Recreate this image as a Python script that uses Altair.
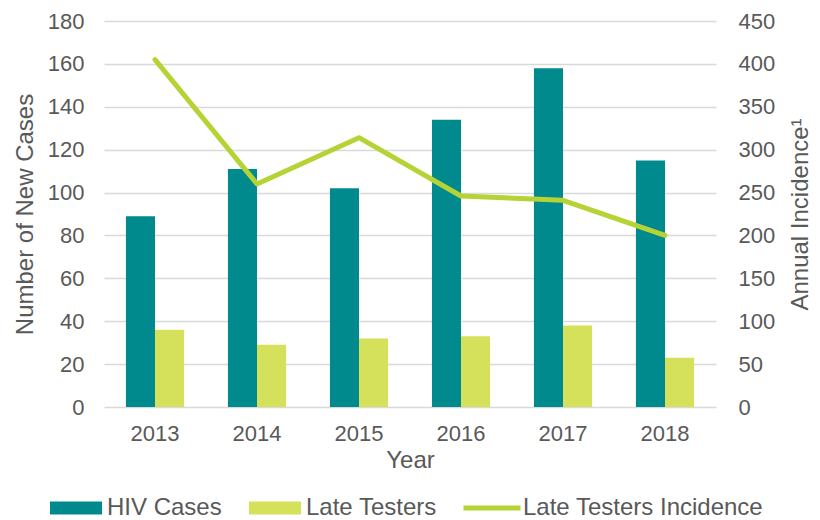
import altair as alt
import pandas as pd

years = ["2013", "2014", "2015", "2016", "2017", "2018"]
hiv_cases = [89, 111, 102, 134, 158, 115]
late_testers = [36, 29, 32, 33, 38, 23]
late_incidence = [405, 260, 314, 246, 241, 200]

bar_series = ["HIV Cases", "Late Testers"]
line_series = "Late Testers Incidence"

bars_df = pd.DataFrame({
    "Year": years * 2,
    "Series": [bar_series[0]] * len(years) + [bar_series[1]] * len(years),
    "Value": hiv_cases + late_testers,
})
line_df = pd.DataFrame({
    "Year": years,
    "Series": [line_series] * len(years),
    "Incidence": late_incidence,
})

TXT = "#595959"
FONT = "Liberation Sans"
TEAL = "#008A8E"
YEL = "#D5E05B"
LINE = "#B5D334"

x_enc = alt.X("Year:N", title="Year",
              scale=alt.Scale(paddingInner=0.43, paddingOuter=0.215),
              axis=alt.Axis(labelAngle=0, labelPadding=16, titlePadding=4,
                            labelFontSize=22, titleFontSize=24, grid=False,
                            domain=False, ticks=False))

bars = alt.Chart(bars_df).mark_bar().encode(
    x=x_enc,
    xOffset=alt.XOffset("Series:N", sort=bar_series,
                        scale=alt.Scale(paddingInner=0, paddingOuter=0)),
    y=alt.Y("Value:Q", title="Number of New Cases",
            scale=alt.Scale(domain=[0, 180], nice=False),
            axis=alt.Axis(values=list(range(0, 181, 20)), grid=True,
                          gridColor="#D9D9D9", gridWidth=1.5,
                          labelPadding=20, titlePadding=10,
                          labelFontSize=22, titleFontSize=24,
                          domain=False, ticks=False)),
    color=alt.Color("Series:N", sort=bar_series,
                    scale=alt.Scale(domain=bar_series, range=[TEAL, YEL]),
                    legend=alt.Legend(title=None, orient="none", direction="horizontal",
                                      columns=2, legendX=-54, legendY=461,
                                      symbolType="M-1,-0.25H1V0.25H-1Z",
                                      symbolSize=2704, symbolStrokeWidth=0,
                                      symbolOpacity=1, labelLimit=0,
                                      labelFontSize=24, labelColor=TXT, labelFont=FONT,
                                      labelOffset=5, columnPadding=27, padding=0)),
)

line = alt.Chart(line_df).mark_line(strokeWidth=5, strokeCap="round", strokeJoin="round").encode(
    x=alt.X("Year:N"),
    y=alt.Y("Incidence:Q", title="Annual Incidence\u00b9",
            scale=alt.Scale(domain=[0, 450], nice=False),
            axis=alt.Axis(orient="right", values=list(range(0, 451, 50)), grid=False,
                          labelPadding=22, titlePadding=14, titleAngle=270,
                          titleBaseline="top",
                          labelFontSize=22, titleFontSize=24,
                          domain=False, ticks=False)),
    stroke=alt.Stroke("Series:N",
                      scale=alt.Scale(domain=[line_series], range=[LINE]),
                      legend=alt.Legend(title=None, orient="none", direction="horizontal",
                                        legendX=357, legendY=456,
                                        symbolType="M-1,0H1", symbolSize=3249,
                                        symbolStrokeWidth=5, symbolStrokeColor=LINE,
                                        labelLimit=0,
                                        labelFontSize=24, labelColor=TXT, labelFont=FONT,
                                        labelOffset=0, padding=0)),
)

chart = alt.layer(bars, line).resolve_scale(
    y="independent", color="independent", stroke="independent"
).properties(
    width=612, height=386,
    background="white",
    autosize=alt.AutoSizeParams(type="none"),
    padding={"left": 96, "top": 13, "right": 96, "bottom": 115},
).configure_view(stroke=None).configure_axis(
    labelColor=TXT, titleColor=TXT, labelFont=FONT, titleFont=FONT,
    titleFontWeight="normal",
)

chart.save("out.html", embed_options={"renderer": "svg", "actions": False})
